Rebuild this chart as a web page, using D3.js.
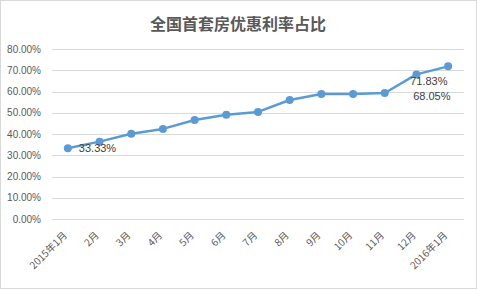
<!DOCTYPE html>
<html>
<head>
<meta charset="utf-8">
<script src="https://cdn.jsdelivr.net/npm/d3@7"></script>
<style>
body { margin: 0; background: #fff; }
svg text { font-family: "Liberation Sans", Arial, "Noto Sans CJK SC", sans-serif; }
</style>
</head>
<body>
<div id="chart"></div>
<script>
// chart data
var months = ["2015年1月","2月","3月","4月","5月","6月","7月","8月","9月","10月","11月","12月","2016年1月"];
var rates = [0.3333, 0.364, 0.401, 0.424, 0.466, 0.491, 0.504, 0.560, 0.588, 0.588, 0.593, 0.6805, 0.7183];
var yTicks = [0, 0.1, 0.2, 0.3, 0.4, 0.5, 0.6, 0.7, 0.8];
var shownLabels = [
    {i: 0, text: "33.33%", dx: 11, dy: 0},
    {i: 12, text: "71.83%", dx: -38, dy: 15},
    {i: 12, text: "68.05%", dx: -35, dy: 30}
];

var W = 477, H = 289;
var margin = {top: 49, right: 13, bottom: 70, left: 52};

var svg = d3.select("#chart").append("svg")
    .attr("width", W)
    .attr("height", H);

// outer frame
svg.append("rect")
    .attr("x", 0.5).attr("y", 0.5)
    .attr("width", W - 1).attr("height", H - 1)
    .attr("fill", "#fff")
    .attr("stroke", "#d9d9d9");

svg.append("text")
    .attr("x", 238).attr("y", 30)
    .attr("text-anchor", "middle")
    .attr("font-size", "16px")
    .attr("font-weight", "bold")
    .attr("fill", "#595959")
    .style("font-family", "'Noto Sans CJK SC', sans-serif")
    .text("全国首套房优惠利率占比");

var x = d3.scaleBand()
    .domain(months)
    .range([margin.left, W - margin.right]);

var y = d3.scaleLinear()
    .domain([0, 0.8])
    .range([H - margin.bottom, margin.top]);

// gridlines
svg.append("g")
    .selectAll("line")
    .data(yTicks)
    .enter()
    .append("line")
    .attr("x1", margin.left)
    .attr("x2", W - margin.right)
    .attr("y1", function(d){ return Math.round(y(d)) + 0.5; })
    .attr("y2", function(d){ return Math.round(y(d)) + 0.5; })
    .attr("stroke", "#d9d9d9")
    .attr("stroke-width", 1);

// y axis labels
var fmt = d3.format(".2%");
svg.append("g")
    .selectAll("text")
    .data(yTicks)
    .enter()
    .append("text")
    .attr("x", 41)
    .attr("y", function(d){ return y(d) + 3.5; })
    .attr("text-anchor", "end")
    .attr("font-size", "10px")
    .attr("fill", "#595959")
    .text(function(d){ return fmt(d); });

// x axis labels, rotated
svg.append("g")
    .selectAll("text")
    .data(months)
    .enter()
    .append("text")
    .attr("transform", function(d){
        var cx = x(d) + x.bandwidth() / 2;
        return "translate(" + (cx) + "," + (H - margin.bottom + 17) + ") rotate(-45)";
    })
    .attr("text-anchor", "end")
    .attr("font-size", "10px")
    .attr("fill", "#595959")
    .style("font-family", "'Noto Sans CJK SC', sans-serif")
    .text(function(d){ return d; });

var cx = function(d, i){ return x(months[i]) + x.bandwidth() / 2; };

var line = d3.line()
    .x(cx)
    .y(function(d){ return y(d); });

svg.append("path")
    .datum(rates)
    .attr("d", line)
    .attr("fill", "none")
    .attr("stroke", "#5b9bd5")
    .attr("stroke-width", 2.5)
    .attr("stroke-linejoin", "round");

svg.append("g")
    .selectAll("circle")
    .data(rates)
    .enter()
    .append("circle")
    .attr("cx", cx)
    .attr("cy", function(d){ return y(d); })
    .attr("r", 4)
    .attr("fill", "#5b9bd5");

// data labels
svg.append("g")
    .selectAll("text")
    .data(shownLabels)
    .enter()
    .append("text")
    .attr("x", function(d){ return cx(null, d.i) + d.dx; })
    .attr("y", function(d){ return y(rates[d.i]) + d.dy + 4; })
    .attr("font-size", "11px")
    .attr("fill", "#404040")
    .text(function(d){ return d.text; });
</script>
</body>
</html>
